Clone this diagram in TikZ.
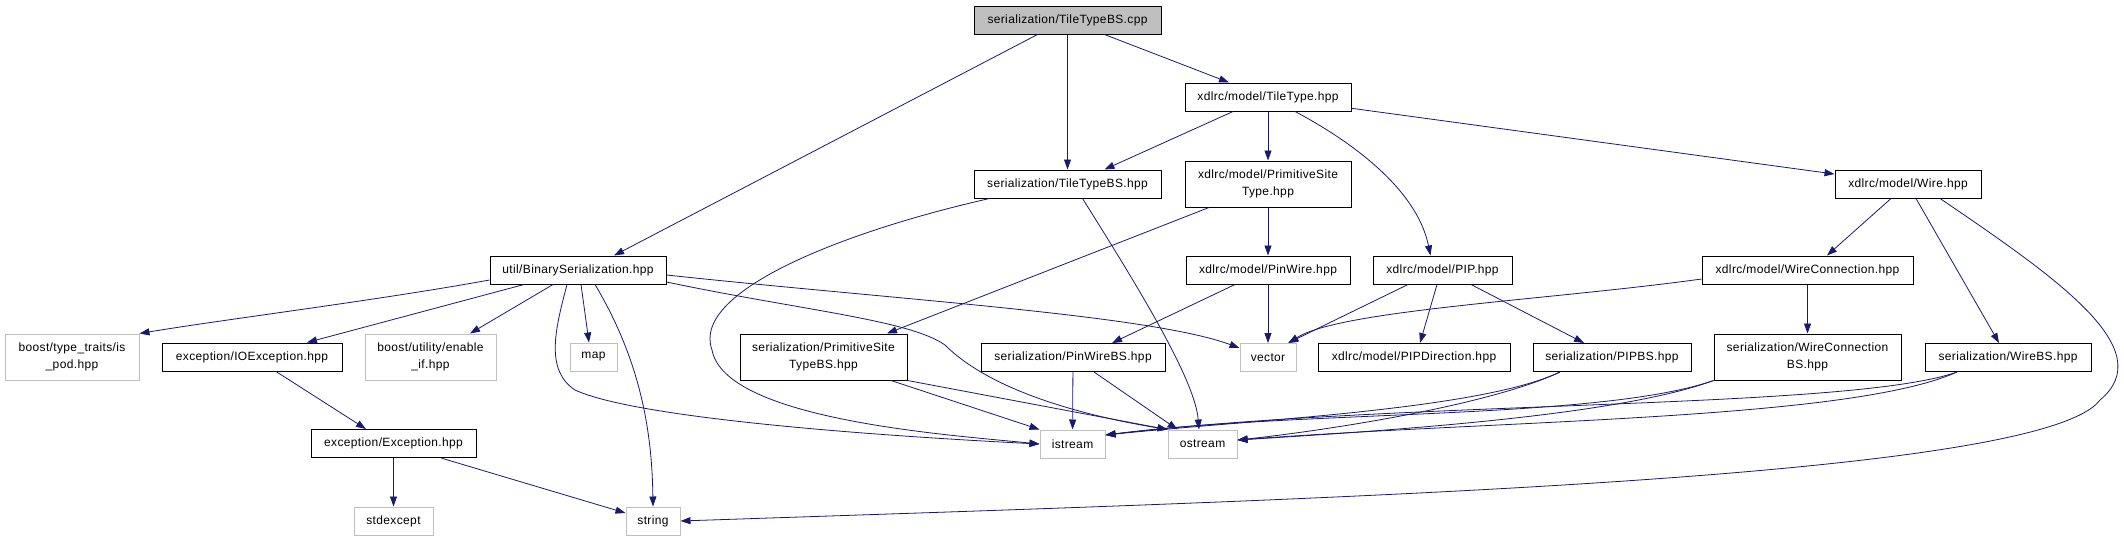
\documentclass[tikz,border=0pt]{standalone}
\usepackage{fontspec}
\setmainfont{Liberation Sans}[LetterSpace=3]
\usetikzlibrary{arrows.meta}
\definecolor{dgEdge}{HTML}{191970}
\definecolor{dgGrey}{HTML}{BFBFBF}
\tikzset{
  dgnode/.style={
    draw, fill=white, line width=1pt, minimum height=28pt, inner sep=2pt,
    font=\fontsize{12}{17}\selectfont, align=center
  },
  dgfile/.style={dgnode, draw=black},
  dgext/.style={dgnode, draw=dgGrey},
  dgroot/.style={dgnode, draw=black, fill=dgGrey},
  dgtwo/.style={minimum height=46pt},
  incl/.style={-{Triangle[length=10pt, width=7pt]}, line width=0.8pt, dgEdge}
}
\begin{document}
\begin{tikzpicture}[x=1pt, y=-1pt]
  \useasboundingbox (0,0) rectangle (2124,541);
  % files
  \node[dgroot, minimum width=187pt] (root) at (1067.5,20) {serialization/TileTypeBS.cpp};
  \node[dgfile, minimum width=187pt] (tbs) at (1067.5,184) {serialization/TileTypeBS.hpp};
  \node[dgfile, minimum width=166pt] (tiletype) at (1268,97) {xdlrc/model/TileType.hpp};
  \node[dgfile, dgtwo, minimum width=166pt] (pst) at (1268,184) {xdlrc/model/PrimitiveSite\\Type.hpp};
  \node[dgfile, minimum width=146pt] (wire) at (1908,184) {xdlrc/model/Wire.hpp};
  \node[dgfile, minimum width=164pt] (pinwire) at (1268,270) {xdlrc/model/PinWire.hpp};
  \node[dgfile, minimum width=139pt] (pip) at (1442.5,270) {xdlrc/model/PIP.hpp};
  \node[dgfile, minimum width=211pt] (wconn) at (1807.5,270) {xdlrc/model/WireConnection.hpp};
  \node[dgext, minimum width=56pt] (vector) at (1268,357.5) {vector};
  \node[dgfile, minimum width=192pt] (pipdir) at (1414,357.5) {xdlrc/model/PIPDirection.hpp};
  \node[dgfile, minimum width=158pt] (pipbs) at (1612,357.5) {serialization/PIPBS.hpp};
  \node[dgfile, dgtwo, minimum width=187pt] (wconnbs) at (1807.5,357) {serialization/WireConnection\\BS.hpp};
  \node[dgfile, minimum width=166pt] (wirebs) at (2008,357.5) {serialization/WireBS.hpp};
  \node[dgfile, minimum width=184pt] (pinwirebs) at (1073,357.5) {serialization/PinWireBS.hpp};
  \node[dgext, minimum width=65pt] (istream) at (1072.5,444) {istream};
  \node[dgext, minimum width=69pt] (ostream) at (1202.5,444) {ostream};
  \node[dgfile, minimum width=176pt] (binser) at (578,270) {util/BinarySerialization.hpp};
  \node[dgext, dgtwo, minimum width=134pt] (ispod) at (72,357) {boost/type\_traits/is\\\_pod.hpp};
  \node[dgfile, minimum width=180pt] (ioexc) at (252,357) {exception/IOException.hpp};
  \node[dgext, dgtwo, minimum width=131pt] (enableif) at (430.5,357) {boost/utility/enable\\\_if.hpp};
  \node[dgext, minimum width=47pt] (map) at (593.5,357) {map};
  \node[dgfile, dgtwo, minimum width=167pt] (pstbs) at (823.5,357) {serialization/PrimitiveSite\\TypeBS.hpp};
  \node[dgfile, minimum width=165pt] (exc) at (393.5,443.5) {exception/Exception.hpp};
  \node[dgext, minimum width=79pt] (stdexcept) at (393.5,521) {stdexcept};
  \node[dgext, minimum width=54pt] (string) at (653,521) {string};

  % includes
  \draw[incl] ([xshift=-30pt]root.south) -- ([xshift=36pt]binser.north);
  \draw[incl] (root) -- (tbs);
  \draw[incl] ([xshift=37pt]root.south) -- ([xshift=-39pt]tiletype.north);
  \draw[incl] ([xshift=-35pt]tiletype.south) -- ([xshift=37pt]tbs.north);
  \draw[incl] (tiletype) -- (pst);
  \draw[incl] ([xshift=27pt]tiletype.south) .. controls (1330,130) and (1415,180) .. ([xshift=-12pt]pip.north);
  \draw[incl] (tiletype) -- (wire);
  \draw[incl] ([xshift=-78pt]tbs.south) .. controls (850,230) and (690,290) .. (712,350)
    .. controls (725,420) and (950,435) .. (istream.west);
  \draw[incl] ([xshift=15pt]tbs.south) .. controls (1140,290) and (1195,380) .. ([xshift=-3.5pt]ostream.north);
  \draw[incl] ([xshift=-59pt]pst.south) -- ([xshift=63.5pt]pstbs.north);
  \draw[incl] (pst) -- (pinwire);
  \draw[incl] ([xshift=-33pt]pinwire.south) -- ([xshift=39pt]pinwirebs.north);
  \draw[incl] (pinwire) -- (vector);
  \draw[incl] ([xshift=-34.5pt]pip.south) -- ([xshift=20pt]vector.north);
  \draw[incl] ([xshift=-5.5pt]pip.south) -- ([xshift=6pt]pipdir.north);
  \draw[incl] ([xshift=28.5pt]pip.south) -- ([xshift=-28pt]pipbs.north);
  \draw[incl] ([xshift=-17pt]wire.south) -- ([xshift=19.5pt]wconn.north);
  \draw[incl] ([xshift=8pt]wire.south) -- ([xshift=-9pt]wirebs.north);
  \draw[incl] ([xshift=32pt]wire.south) .. controls (2060,280) and (2160,350) .. (2100,400)
    .. controls (2040,480) and (1300,500) .. (string.east);
  \draw[incl] ([yshift=-9pt]wconn.west) .. controls (1550,300) and (1340,310) .. ([xshift=-8pt]vector.north east);
  \draw[incl] (wconn) -- (wconnbs);
  \draw[incl] ([yshift=-10pt]binser.west) .. controls (380,300) and (220,320) .. (ispod.north east);
  \draw[incl] ([xshift=-54pt]binser.south) -- ([xshift=55pt]ioexc.north);
  \draw[incl] ([xshift=-25pt]binser.south) -- ([xshift=39.5pt]enableif.north);
  \draw[incl] ([xshift=3pt]binser.south) -- ([xshift=-4.5pt]map.north);
  \draw[incl] ([xshift=17pt]binser.south) .. controls (640,360) and (652,430) .. (string.north);
  \draw[incl] ([xshift=-11pt]binser.south) .. controls (555,330) and (545,370) .. (575,390)
    .. controls (640,420) and (900,437) .. (istream.west);
  \draw[incl] ([yshift=-12pt]binser.east) .. controls (800,310) and (910,320) .. (945,345)
    .. controls (980,380) and (1050,410) .. (ostream.north west);
  \draw[incl] ([yshift=-5pt]binser.east) .. controls (900,300) and (1150,315) .. ([yshift=9.5pt]vector.west);
  \draw[incl] ([xshift=24pt]ioexc.south) -- ([xshift=-27.5pt]exc.north);
  \draw[incl] (exc) -- (stdexcept);
  \draw[incl] ([xshift=47.5pt]exc.south) -- ([yshift=8pt]string.west);
  \draw[incl] ([xshift=67.5pt]pstbs.south) -- (istream.north west);
  \draw[incl] (pstbs.south east) -- (ostream.north west);
  \draw[incl] (pinwirebs) -- (istream);
  \draw[incl] ([xshift=21pt]pinwirebs.south) -- ([xshift=-25pt]ostream.north);
  \draw[incl] ([xshift=-52pt]pipbs.south) .. controls (1480,410) and (1250,420) .. ([yshift=9pt]istream.east);
  \draw[incl] ([xshift=-52pt]pipbs.south) .. controls (1490,405) and (1330,430) .. ([yshift=4pt]ostream.east);
  \draw[incl] (wconnbs.south west) .. controls (1600,420) and (1300,410) .. ([yshift=9pt]istream.east);
  \draw[incl] (wconnbs.south west) .. controls (1620,415) and (1400,430) .. ([yshift=4pt]ostream.east);
  \draw[incl] ([xshift=-51pt]wirebs.south) .. controls (1850,410) and (1400,400) .. ([yshift=9pt]istream.east);
  \draw[incl] ([xshift=-51pt]wirebs.south) .. controls (1850,420) and (1500,420) .. ([yshift=4pt]ostream.east);
\end{tikzpicture}
\end{document}
